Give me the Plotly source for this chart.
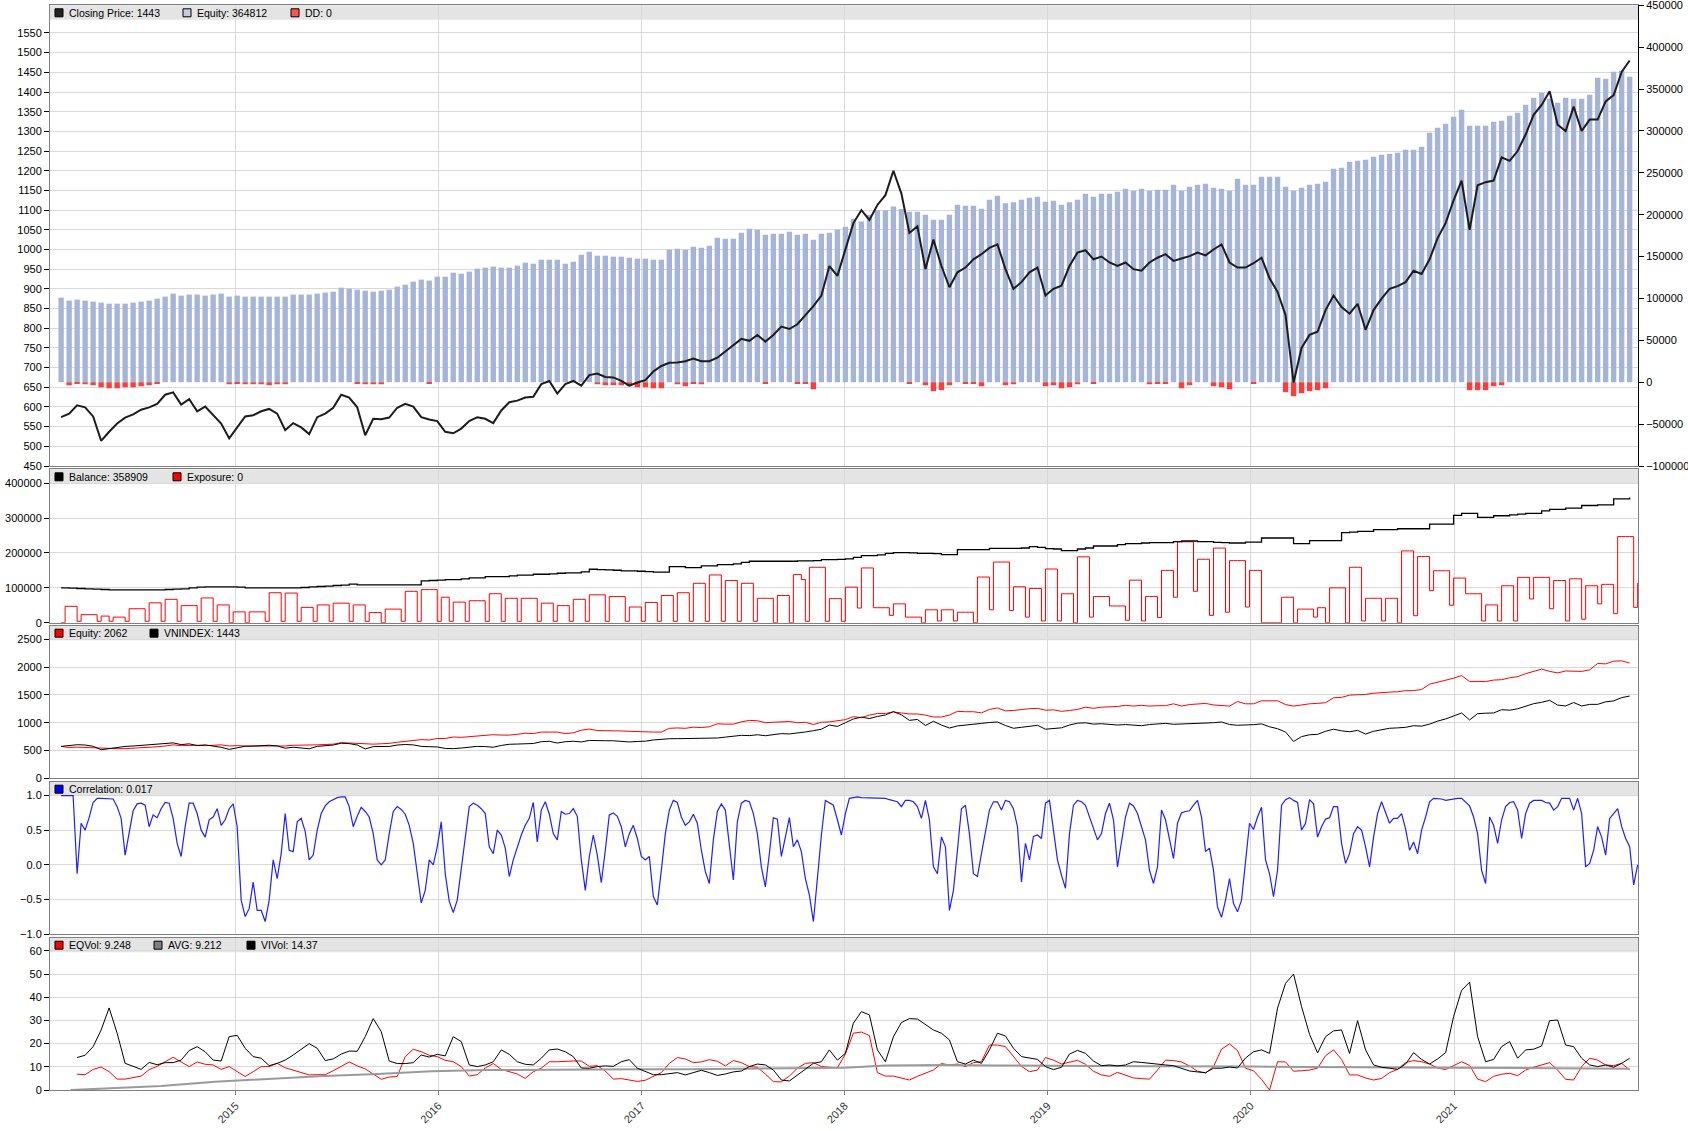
import numpy as np
import pandas as pd
import plotly.graph_objects as go
from plotly.subplots import make_subplots

# VNINDEX close, one value per equity bar (roughly every two weeks)
closing_price = [
    574, 583, 604, 599, 576, 514, 537, 558, 573, 581,
    593, 599, 608, 631, 637, 606, 620, 589, 601, 579,
    558, 520, 549, 576, 579, 589, 595, 583, 541, 559,
    548, 531, 574, 583, 598, 631, 624, 599, 528, 570,
    569, 573, 598, 608, 601, 574, 568, 564, 537, 533,
    545, 564, 574, 570, 559, 591, 612, 616, 624, 626,
    658, 666, 634, 658, 666, 654, 681, 685, 676, 675,
    666, 654, 662, 668, 690, 704, 712, 713, 716, 723,
    716, 716, 725, 741, 758, 773, 768, 783, 766, 783,
    804, 798, 810, 833, 856, 883, 958, 933, 1000, 1067,
    1100, 1075, 1113, 1138, 1200, 1142, 1042, 1059, 950, 1025,
    958, 904, 942, 954, 975, 988, 1004, 1013, 950, 900,
    917, 942, 954, 883, 900, 908, 958, 992, 998, 975,
    982, 967, 958, 967, 950, 946, 967, 979, 988, 971,
    977, 983, 992, 985, 1000, 1013, 967, 954, 954, 965,
    979, 927, 892, 833, 662, 750, 783, 791, 846, 883,
    854, 837, 862, 796, 846, 875, 900, 907, 917, 946,
    938, 975, 1029, 1067, 1125, 1175, 1050, 1163, 1171, 1175,
    1234, 1225, 1250, 1292, 1342, 1367, 1402, 1317, 1301, 1363,
    1301, 1330, 1330, 1376, 1392, 1451, 1480,
]

# strategy equity per bar, thousands
equity_k = [
    101.0, 97.4, 98.6, 97.4, 96.2, 95.0, 93.8, 93.8, 93.8, 95.0,
    96.2, 97.4, 99.8, 102.2, 105.8, 103.4, 104.6, 104.6, 103.4, 104.6,
    105.8, 102.2, 103.4, 102.2, 102.2, 102.2, 102.2, 102.2, 102.2, 104.6,
    104.6, 104.6, 105.8, 107.0, 108.1, 112.9, 111.7, 110.5, 109.3, 108.1,
    109.3, 110.5, 114.1, 116.5, 120.1, 122.5, 121.3, 126.0, 126.0, 130.8,
    129.6, 132.0, 135.6, 136.8, 138.0, 136.8, 136.8, 139.2, 142.7, 141.5,
    146.3, 146.3, 146.3, 141.5, 143.9, 152.3, 155.9, 151.1, 151.1, 149.9,
    149.9, 148.7, 147.5, 147.5, 146.3, 146.3, 158.2, 159.4, 158.2, 161.8,
    160.6, 163.0, 172.6, 171.4, 171.4, 178.5, 183.3, 182.1, 176.1, 177.3,
    177.3, 179.7, 176.1, 177.3, 170.2, 177.3, 178.5, 182.1, 185.7, 195.2,
    192.0, 200.0, 205.2, 205.2, 209.9, 206.8, 203.6, 203.6, 200.0, 194.0,
    194.0, 200.0, 211.9, 210.7, 210.7, 207.1, 217.9, 222.7, 213.5, 214.7,
    217.9, 220.3, 221.5, 215.5, 216.7, 211.9, 214.7, 217.9, 225.0, 221.5,
    225.0, 225.0, 227.4, 231.0, 228.6, 231.0, 228.6, 229.8, 229.8, 235.8,
    228.6, 233.4, 235.8, 237.0, 232.2, 231.0, 228.6, 242.9, 235.8, 235.8,
    245.3, 245.3, 245.3, 233.4, 228.6, 232.2, 235.8, 237.0, 239.4, 254.9,
    256.1, 263.2, 264.4, 265.6, 269.2, 271.6, 272.8, 273.9, 277.5, 277.5,
    281.1, 297.8, 303.8, 308.5, 316.9, 325.2, 306.2, 306.2, 306.2, 310.9,
    312.1, 318.1, 321.7, 331.2, 339.6, 345.5, 338.4, 333.6, 339.6, 338.4,
    338.4, 343.1, 363.4, 362.2, 370.6, 371.8, 364.8,
]

# drawdown per bar, thousands
drawdown_k = [
    0, -3.6, -1.6, -2.4, -3.6, -6.0, -7.2, -7.2, -6.0, -6.0,
    -4.8, -3.6, -1.2, 0, 0, 0, 0, 0, 0, 0,
    0, -2.4, -1.2, -2.4, -2.4, -2.4, -3.6, -2.4, -2.4, 0,
    0, 0, 0, 0, 0, 0, 0, -1.2, -2.4, -2.4,
    -2.4, 0, 0, 0, 0, 0, -1.2, 0, 0, 0,
    0, 0, 0, 0, 0, 0, 0, 0, 0, 0,
    0, 0, 0, 0, 0, 0, 0, -2.4, -3.6, -3.6,
    -3.6, -4.8, -6.0, -6.0, -7.2, -7.2, 0, -2.4, -4.8, -1.2,
    -2.4, 0, 0, 0, 0, 0, 0, 0, -1.2, 0,
    0, 0, -1.2, -1.2, -8.4, 0, 0, 0, 0, 0,
    0, 0, 0, 0, 0, 0, -1.2, 0, -3.6, -10.7,
    -9.5, -3.6, 0, -1.2, -1.2, -4.8, 0, 0, -3.6, -2.4,
    0, 0, 0, -4.8, -3.6, -7.2, -6.0, -2.4, 0, -1.2,
    0, 0, 0, 0, 0, 0, -2.4, -1.2, -1.2, 0,
    -7.2, -3.6, 0, 0, -4.8, -6.0, -8.4, 0, 0, -1.2,
    0, 0, 0, -11.9, -16.7, -13.1, -10.7, -9.5, -7.2, 0,
    0, 0, 0, 0, 0, 0, 0, 0, 0, 0,
    0, 0, 0, 0, 0, 0, -9.5, -9.5, -9.5, -4.8,
    -3.6, 0, 0, 0, 0, 0, 0, 0, 0, 0,
    0, 0, 0, 0, 0, 0, 0,
]

# closed-trade balance per bar, thousands
balance_k = [
    100.0, 99.0, 98.1, 97.1, 96.2, 95.2, 94.3, 94.3, 94.3, 94.3,
    94.3, 94.3, 94.3, 95.2, 96.2, 97.1, 100.0, 101.9, 102.9, 102.9,
    102.9, 102.9, 101.9, 100.0, 100.0, 100.0, 100.0, 100.0, 100.0, 100.0,
    101.0, 102.9, 103.8, 104.8, 106.7, 107.6, 110.5, 108.6, 108.6, 108.6,
    108.6, 108.6, 108.6, 108.6, 108.6, 120.0, 121.0, 121.9, 123.8, 123.8,
    125.7, 128.6, 128.6, 132.4, 132.4, 132.4, 134.3, 136.2, 136.2, 139.0,
    139.0, 140.0, 141.9, 142.9, 142.9, 145.7, 153.3, 152.4, 151.4, 150.5,
    148.6, 148.6, 147.6, 146.7, 144.8, 144.8, 161.0, 161.0, 158.1, 158.1,
    162.9, 162.9, 166.7, 166.7, 168.6, 173.3, 176.2, 176.2, 176.2, 176.2,
    176.2, 176.2, 177.1, 177.1, 178.1, 181.0, 181.0, 181.9, 182.9, 187.6,
    192.4, 192.4, 194.3, 199.0, 201.0, 201.0, 200.0, 199.0, 199.0, 198.1,
    195.2, 195.2, 209.5, 209.5, 209.5, 209.5, 213.3, 213.3, 213.3, 213.3,
    214.3, 218.1, 216.2, 212.4, 211.4, 206.7, 206.7, 211.4, 214.3, 220.0,
    220.0, 220.0, 223.8, 226.7, 226.7, 228.6, 229.5, 229.5, 229.5, 232.4,
    234.3, 234.3, 232.4, 232.4, 230.5, 229.5, 228.6, 228.6, 231.4, 231.4,
    242.9, 242.9, 242.9, 242.9, 226.7, 226.7, 235.2, 235.2, 235.2, 235.2,
    258.1, 260.0, 261.9, 261.9, 266.7, 266.7, 266.7, 269.5, 269.5, 269.5,
    269.5, 282.9, 282.9, 282.9, 307.6, 313.3, 313.3, 301.9, 301.9, 306.7,
    306.7, 309.5, 311.4, 313.3, 313.3, 321.0, 324.8, 324.8, 328.6, 328.6,
    336.2, 336.2, 338.1, 338.1, 355.2, 355.2, 358.9,
]

# exposure in thousands as (level, number of weeks) runs
exposure_runs = [
    (0, 1), (47, 3), (4, 1), (23, 4), (4, 1), (19, 2), (4, 1), (16, 3), (4, 1), (40, 4),
    (4, 1), (57, 3), (4, 1), (67, 3), (4, 1), (49, 4), (4, 1), (71, 3), (4, 1), (51, 3),
    (0, 1), (31, 3), (0, 1), (31, 4), (4, 1), (86, 3), (4, 1), (85, 3), (4, 1), (44, 3),
    (4, 1), (51, 3), (4, 1), (56, 4), (4, 1), (51, 3), (4, 1), (29, 3), (0, 1), (39, 4),
    (4, 1), (90, 3), (4, 1), (95, 4), (4, 1), (73, 2), (4, 1), (59, 3), (4, 1), (63, 4),
    (4, 1), (83, 3), (4, 1), (70, 3), (4, 1), (70, 4), (4, 1), (56, 3), (4, 1), (49, 3),
    (4, 1), (67, 3), (4, 1), (80, 4), (4, 1), (75, 4), (4, 1), (45, 3), (4, 1), (58, 3),
    (4, 1), (78, 3), (4, 1), (86, 3), (4, 1), (113, 3), (4, 1), (137, 3), (4, 1), (121, 3),
    (4, 1), (113, 3), (4, 1), (70, 4), (0, 1), (78, 3), (0, 1), (138, 2), (124, 1), (4, 1),
    (159, 4), (4, 1), (69, 3), (4, 1), (102, 3), (42, 1), (157, 3), (43, 4), (21, 1), (54, 3),
    (16, 4), (0, 1), (37, 3), (5, 1), (37, 3), (5, 1), (30, 4), (0, 1), (131, 3), (37, 1),
    (174, 4), (35, 1), (103, 3), (16, 1), (98, 3), (5, 1), (154, 3), (5, 1), (83, 3), (0, 1),
    (189, 3), (16, 1), (75, 4), (48, 4), (7, 1), (122, 3), (5, 1), (75, 3), (15, 1), (150, 3),
    (73, 1), (232, 4), (90, 1), (182, 3), (21, 1), (214, 3), (30, 1), (178, 4), (45, 1), (150, 3),
    (0, 5), (73, 3), (0, 1), (39, 4), (16, 1), (43, 2), (0, 1), (100, 4), (0, 1), (159, 3),
    (5, 1), (70, 4), (5, 1), (70, 3), (0, 1), (206, 3), (20, 1), (190, 3), (92, 1), (149, 4),
    (50, 1), (128, 3), (83, 4), (5, 1), (51, 3), (5, 1), (106, 3), (5, 1), (130, 3), (68, 1),
    (130, 4), (40, 1), (121, 3), (5, 1), (126, 3), (10, 1), (106, 3), (54, 1), (110, 3), (26, 1),
    (247, 4), (44, 1), (114, 1),
]

# weekly correlation between strategy and index
correlation = [
    1.00, 1.00, 1.00, 1.00, -0.13, 0.60, 0.50, 0.68, 0.90, 0.96,
    0.96, 0.96, 0.96, 0.95, 0.84, 0.67, 0.14, 0.49, 0.78, 0.88,
    0.89, 0.86, 0.55, 0.72, 0.68, 0.81, 0.90, 0.89, 0.67, 0.31,
    0.12, 0.55, 0.89, 0.89, 0.74, 0.50, 0.40, 0.65, 0.69, 0.81,
    0.57, 0.65, 0.81, 0.88, 0.55, -0.51, -0.75, -0.63, -0.25, -0.66,
    -0.66, -0.82, -0.51, 0.07, -0.20, 0.16, 0.74, 0.21, 0.19, 0.62,
    0.67, 0.48, 0.07, 0.14, 0.50, 0.74, 0.85, 0.91, 0.94, 0.97,
    0.98, 0.98, 0.84, 0.55, 0.70, 0.83, 0.77, 0.69, 0.45, 0.07,
    0.00, 0.07, 0.45, 0.77, 0.84, 0.80, 0.73, 0.57, 0.31, -0.10,
    -0.55, -0.37, 0.07, 0.00, 0.26, 0.62, -0.13, -0.53, -0.69, -0.51,
    -0.03, 0.40, 0.84, 0.89, 0.86, 0.81, 0.74, 0.26, 0.16, 0.50,
    0.43, 0.24, -0.17, 0.07, 0.26, 0.43, 0.57, 0.67, 0.90, 0.33,
    0.79, 0.91, 0.73, 0.45, 0.36, 0.77, 0.73, 0.74, 0.81, 0.70,
    0.07, -0.37, 0.12, 0.43, 0.14, -0.26, 0.21, 0.72, 0.75, 0.70,
    0.55, 0.26, 0.45, 0.57, 0.38, 0.12, 0.07, 0.12, -0.46, -0.58,
    -0.08, 0.45, 0.79, 0.93, 0.90, 0.69, 0.57, 0.62, 0.73, 0.60,
    0.21, -0.10, -0.27, 0.36, 0.77, 0.88, 0.79, 0.31, -0.22, 0.62,
    0.89, 0.93, 0.91, 0.74, 0.45, -0.03, -0.32, 0.16, 0.68, 0.66,
    0.12, 0.40, 0.68, 0.26, 0.36, 0.19, -0.20, -0.44, -0.82, -0.20,
    0.43, 0.93, 0.90, 0.86, 0.65, 0.43, 0.74, 0.96, 0.97, 0.98,
    0.97, 0.97, 0.97, 0.97, 0.97, 0.97, 0.96, 0.94, 0.93, 0.91,
    0.84, 0.93, 0.93, 0.91, 0.84, 0.67, 0.93, 0.65, -0.03, -0.13,
    0.40, 0.26, -0.66, -0.37, 0.21, 0.81, 0.86, 0.45, -0.13, -0.17,
    0.16, 0.45, 0.79, 0.91, 0.91, 0.79, 0.93, 0.91, 0.81, 0.55,
    -0.25, 0.31, 0.07, 0.41, 0.43, 0.38, 0.89, 0.93, 0.50, 0.07,
    -0.15, -0.34, 0.45, 0.86, 0.93, 0.91, 0.86, 0.69, 0.50, 0.36,
    0.45, 0.74, 0.89, 0.65, -0.03, 0.36, 0.69, 0.89, 0.85, 0.74,
    0.55, 0.36, -0.08, -0.27, -0.03, 0.79, 0.65, 0.36, 0.09, 0.60,
    0.75, 0.77, 0.78, 0.86, 0.93, 0.69, 0.19, 0.24, -0.08, -0.61,
    -0.76, -0.51, -0.20, -0.56, -0.68, -0.51, 0.07, 0.60, 0.51, 0.69,
    0.83, 0.07, -0.13, -0.46, -0.08, 0.86, 0.94, 0.97, 0.93, 0.90,
    0.50, 0.60, 0.94, 0.88, 0.40, 0.55, 0.66, 0.68, 0.84, 0.84,
    0.31, 0.02, 0.16, 0.45, 0.55, 0.50, 0.26, -0.03, 0.40, 0.74,
    0.91, 0.74, 0.60, 0.67, 0.67, 0.74, 0.52, 0.21, 0.33, 0.16,
    0.50, 0.69, 0.91, 0.96, 0.96, 0.95, 0.93, 0.94, 0.96, 0.96,
    0.96, 0.91, 0.85, 0.69, 0.45, -0.08, -0.27, 0.69, 0.57, 0.31,
    0.65, 0.84, 0.90, 0.91, 0.79, 0.38, 0.74, 0.89, 0.93, 0.93,
    0.93, 0.90, 0.89, 0.79, 0.84, 0.96, 0.96, 0.96, 0.79, 0.96,
    0.74, -0.03, 0.02, 0.21, 0.55, 0.40, 0.14, 0.67, 0.74, 0.81,
    0.55, 0.38, 0.26, -0.29, 0.00,
]

# volatility of equity and of the index, per bar
eq_vol = [
    None, None,
    6.8, 6.6, 8.9, 9.9, 7.9, 4.7, 4.7, 5.5, 6.0, 8.8,
    10.2, 12.2, 14.1, 12.1, 10.1, 12.1, 11.1, 10.8, 8.9, 10.1,
    7.9, 5.8, 7.9, 10.1, 10.1, 11.5, 9.6, 8.6, 7.6, 6.5,
    6.6, 6.6, 8.3, 10.1, 12.1, 10.4, 9.1, 6.9, 4.6, 5.6,
    5.8, 14.4, 17.6, 16.5, 15.0, 14.4, 12.8, 12.2, 10.1, 6.0,
    6.6, 9.5, 11.4, 8.9, 7.9, 6.9, 5.0, 7.9, 9.4, 12.2,
    12.2, 12.5, 12.5, 12.5, 10.2, 10.5, 8.2, 4.7, 4.9, 4.3,
    3.7, 4.2, 5.8, 7.5, 11.5, 14.0, 13.4, 11.8, 12.1, 13.1,
    12.4, 10.4, 12.7, 11.8, 10.1, 9.8, 6.9, 3.6, 3.5, 6.0,
    9.4, 11.5, 11.8, 10.1, 9.8, 9.6, 15.5, 24.5, 25.0, 23.5,
    7.5, 6.0, 6.0, 5.0, 4.3, 5.9, 7.3, 8.6, 11.4, 10.8,
    11.2, 10.1, 11.8, 12.2, 19.4, 19.4, 18.7, 14.4, 10.2, 7.9,
    8.6, 14.0, 12.9, 11.2, 12.1, 12.8, 11.1, 8.1, 6.5, 5.9,
    7.6, 6.3, 5.2, 4.9, 4.7, 8.6, 12.9, 12.7, 12.1, 10.4,
    8.1, 7.3, 10.1, 17.6, 19.9, 17.0, 9.4, 8.3, 4.6, 0.0,
    12.2, 12.1, 8.1, 8.3, 8.6, 9.4, 14.8, 17.3, 13.2, 6.5,
    6.5, 5.2, 4.3, 5.0, 7.5, 8.9, 11.8, 12.7, 12.2, 11.2,
    9.5, 8.8, 10.5, 12.2, 10.6, 4.7, 3.6, 5.9, 6.8, 7.2,
    6.2, 8.6, 9.8, 10.8, 11.8, 8.6, 4.6, 4.3, 10.1, 13.7,
    12.9, 10.8, 10.5, 11.5, 8.6,
]

vi_vol = [
    None, None,
    14.0, 15.0, 18.7, 25.9, 35.4, 24.5, 11.5, 10.1, 8.9, 11.9,
    10.9, 11.8, 11.8, 12.9, 17.0, 18.7, 16.5, 12.9, 12.5, 23.0,
    23.6, 18.0, 14.4, 13.7, 10.5, 11.5, 12.9, 15.1, 17.7, 20.0,
    18.0, 12.7, 13.4, 15.5, 16.8, 16.7, 23.0, 30.8, 25.2, 12.5,
    11.4, 11.4, 11.8, 15.1, 14.2, 15.4, 14.7, 23.0, 20.9, 10.8,
    10.1, 10.8, 12.2, 17.3, 15.4, 12.2, 11.1, 10.8, 13.7, 17.3,
    17.7, 16.5, 14.4, 9.5, 9.4, 10.1, 10.4, 10.2, 12.2, 13.1,
    9.4, 7.9, 6.6, 6.6, 7.2, 7.5, 6.5, 7.6, 8.5, 7.5,
    6.3, 6.9, 7.8, 8.2, 10.1, 11.2, 10.8, 8.6, 4.3, 3.9,
    6.5, 9.1, 11.5, 12.2, 17.3, 12.9, 15.8, 28.8, 33.8, 32.4,
    17.3, 12.2, 23.0, 29.1, 30.8, 30.6, 28.3, 25.9, 24.5, 21.6,
    12.2, 11.2, 12.9, 11.5, 17.3, 24.5, 23.3, 18.0, 14.4, 13.7,
    13.2, 10.1, 8.8, 9.8, 15.5, 17.1, 15.8, 12.5, 10.5, 10.8,
    10.4, 10.8, 12.2, 11.9, 11.5, 10.9, 10.8, 10.5, 9.2, 8.2,
    7.8, 7.5, 9.4, 9.4, 9.9, 9.5, 13.8, 16.5, 17.3, 15.8,
    35.3, 46.0, 50.0, 36.0, 24.0, 16.0, 23.0, 25.5, 25.9, 15.8,
    29.9, 17.3, 10.8, 9.8, 9.4, 8.9, 11.2, 16.1, 13.2, 11.2,
    13.4, 16.1, 31.7, 43.0, 46.5, 23.0, 12.2, 13.2, 18.7, 20.9,
    13.7, 17.3, 17.6, 19.0, 29.9, 30.2, 19.4, 18.7, 13.7, 10.8,
    10.1, 10.8, 9.8, 11.5, 13.7,
]

avg_dates = [
    "2014-03-10", "2014-05-20", "2014-08-20", "2014-11-25", "2015-03-03", "2015-06-09",
    "2015-09-13", "2015-12-20", "2016-03-27", "2016-07-01", "2016-10-01", "2017-01-01",
    "2017-04-01", "2017-07-01", "2017-10-01", "2018-01-01", "2018-03-15", "2018-07-01",
    "2018-10-01", "2019-01-01", "2019-07-01", "2020-01-01", "2020-07-01", "2021-01-01",
    "2021-07-01", "2021-11-13",
]
avg_vol = [0.0, 0.8, 1.7, 3.6, 4.9, 6.0, 6.9, 8.1, 8.6, 8.8, 9.0, 8.9, 9.0,
           9.3, 9.6, 9.6, 10.6, 10.8, 10.6, 10.4, 10.2, 10.1, 10.0, 9.6, 9.4, 9.2]

first_bar, last_bar = pd.Timestamp("2014-02-21"), pd.Timestamp("2021-11-13")
x_range = ["2014-02-01", "2021-11-28"]

# ---- derived arrays ----
bar_dates = pd.date_range(first_bar, last_bar, periods=len(equity_k))
exposure_k = np.repeat([r[0] for r in exposure_runs], [r[1] for r in exposure_runs])
week_step = (last_bar - first_bar) / (2 * (len(equity_k) - 1))
week_dates = pd.date_range(first_bar, periods=len(correlation), freq=week_step)
exposure_dates = pd.date_range(first_bar, periods=len(exposure_k), freq=week_step)
equity = np.array(equity_k) * 1000
equity_norm = equity * closing_price[0] / equity[0]

FONT = "Liberation Sans, Arial, sans-serif"
GRID = "#d9d9d9"
FRAME = "#808080"

fig = make_subplots(rows=5, cols=1, shared_xaxes=True,
                    specs=[[{"secondary_y": True}], [{}], [{}], [{}], [{}]])

# panel 1: equity bars, drawdown, price
fig.add_trace(go.Bar(x=bar_dates, y=equity, marker_color="#a6b4d5", marker_line_width=0),
              row=1, col=1, secondary_y=False)
fig.add_trace(go.Bar(x=bar_dates, y=np.array(drawdown_k) * 1000, marker_color="#ff3c3c",
                     marker_line_width=0), row=1, col=1, secondary_y=False)
fig.add_trace(go.Scatter(x=bar_dates, y=closing_price, mode="lines",
                         line=dict(color="#1c1c1c", width=2)), row=1, col=1, secondary_y=True)

# panel 2: balance and exposure
fig.add_trace(go.Scatter(x=exposure_dates, y=exposure_k * 1000, mode="lines",
                         line=dict(color="#ff0000", width=1, shape="hv")), row=2, col=1)
fig.add_trace(go.Scatter(x=bar_dates, y=np.array(balance_k) * 1000, mode="lines",
                         line=dict(color="#000000", width=1.3, shape="hv")), row=2, col=1)

# panel 3: normalised equity vs index
fig.add_trace(go.Scatter(x=bar_dates, y=equity_norm, mode="lines",
                         line=dict(color="#ff0000", width=1)), row=3, col=1)
fig.add_trace(go.Scatter(x=bar_dates, y=closing_price, mode="lines",
                         line=dict(color="#000000", width=1)), row=3, col=1)

# panel 4: correlation
fig.add_trace(go.Scatter(x=week_dates, y=correlation, mode="lines",
                         line=dict(color="#1f1fff", width=1.2)), row=4, col=1)

# panel 5: volatility
fig.add_trace(go.Scatter(x=bar_dates, y=eq_vol, mode="lines",
                         line=dict(color="#ff0000", width=1)), row=5, col=1)
fig.add_trace(go.Scatter(x=avg_dates, y=avg_vol, mode="lines",
                         line=dict(color="#9a9a9a", width=2)), row=5, col=1)
fig.add_trace(go.Scatter(x=bar_dates, y=vi_vol, mode="lines",
                         line=dict(color="#000000", width=1)), row=5, col=1)


def yp(px):
    return (1090 - px) / 1085


panel_top = [5.3, 469.3, 625.7, 781.7, 937.7]
panel_bottom = [466, 622.7, 778.3, 934, 1090]

tick_font = dict(family=FONT, size=11, color="#000")
yaxis_common = dict(showline=True, linecolor=FRAME, mirror=True, ticks="outside", ticklen=5,
                    tickcolor="#000", tickfont=tick_font, gridcolor=GRID, zeroline=False,
                    automargin=False, tickformat="d", ticklabeloverflow="allow")

fig.update_layout(
    width=1688, height=1131,
    margin=dict(l=50, r=50, t=5, b=41),
    paper_bgcolor="white", plot_bgcolor="white",
    showlegend=False, barmode="overlay", bargap=0.33, hovermode=False,
    font=dict(family=FONT, size=11, color="#000"),
    yaxis=dict(domain=[yp(panel_bottom[0]), 1.0], side="right", range=[-100000, 450300],
               tickvals=list(range(-100000, 450001, 50000)), tickformat="d",
               showgrid=False, showline=True, linecolor="#000", ticks="outside", ticklen=5,
               tickcolor="#000", tickfont=tick_font, zeroline=False, automargin=False,
               ticklabeloverflow="allow"),
    yaxis2=dict(side="left", range=[450, 1621], tickvals=list(range(450, 1551, 50)),
                showgrid=True, gridcolor=GRID, showline=True, linecolor=FRAME,
                ticks="outside", ticklen=5, tickcolor="#000", tickfont=tick_font,
                zeroline=False, automargin=False),
    yaxis3=dict(yaxis_common, domain=[yp(panel_bottom[1]), yp(panel_top[1])],
                range=[0, 440000], dtick=100000),
    yaxis4=dict(yaxis_common, domain=[yp(panel_bottom[2]), yp(panel_top[2])],
                range=[0, 2745], dtick=500),
    yaxis5=dict(yaxis_common, domain=[yp(panel_bottom[3]), yp(panel_top[3])],
                range=[-1, 1.2], dtick=0.5, tickformat=".1f"),
    yaxis6=dict(yaxis_common, domain=[0, yp(panel_top[4])], range=[0, 65.7], dtick=10),
)

for i in range(1, 6):
    fig.update_xaxes(
        domain=[0, 1], range=x_range, type="date", dtick="M12", tick0="2015-01-01",
        showgrid=True, gridcolor=GRID, showline=True, linecolor=FRAME, mirror=True,
        zeroline=False, automargin=False, row=i, col=1,
    )
fig.update_xaxes(showticklabels=True, tickformat="%Y", tickangle=-45, ticks="outside",
                 ticklen=4, tickcolor=FRAME, tickfont=dict(family=FONT, size=11, color="#333"),
                 row=5, col=1)

# legend strips at the top of every panel, as in the original tool
legend_rows = [
    [(55, "#222222", "Closing Price: 1443"), (183, "#c6cce0", "Equity: 364812"),
     (291, "#ff5555", "DD: 0")],
    [(55, "#000000", "Balance: 358909"), (173, "#ff0000", "Exposure: 0")],
    [(55, "#ff0000", "Equity: 2062"), (150, "#000000", "VNINDEX: 1443")],
    [(55, "#0000ff", "Correlation: 0.017")],
    [(55, "#ff0000", "EQVol: 9.248"), (154, "#808080", "AVG: 9.212"),
     (247, "#000000", "VIVol: 14.37")],
]
for top, items in zip(panel_top, legend_rows):
    fig.add_shape(type="rect", xref="paper", yref="paper", x0=0, x1=1,
                  y0=yp(top + 14.5), y1=yp(top), fillcolor="#e4e4e4",
                  line=dict(width=0), layer="below")
    for xpx, color, label in items:
        fig.add_shape(type="rect", xref="paper", yref="paper",
                      x0=(xpx - 50) / 1588, x1=(xpx - 42) / 1588,
                      y0=yp(top + 11.5), y1=yp(top + 3.5),
                      fillcolor=color, line=dict(color="#000", width=1), layer="above")
        fig.add_annotation(x=(xpx - 38.5) / 1588, y=yp(top + 7.5), xref="paper", yref="paper",
                           text=label, showarrow=False, xanchor="left", yanchor="middle",
                           font=dict(family=FONT, size=10.5, color="#000"))

fig.write_html("out.html", config={"displayModeBar": False},
               post_script="document.body.style.margin = '0';")
